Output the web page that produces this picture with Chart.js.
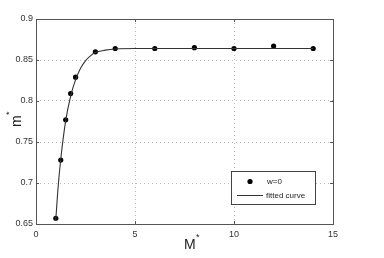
<!DOCTYPE html>
<html>
<head>
<meta charset="utf-8">
<script src="https://cdn.jsdelivr.net/npm/chart.js@4"></script>
<style>
  html, body { margin: 0; padding: 0; background: #fff; }
  #wrap { width: 384px; height: 258px; }
</style>
</head>
<body>
<div id="wrap"><canvas id="chart" width="384" height="258"></canvas></div>
<script>
// measured points (w=0)
const pointX = [1, 1.25, 1.5, 1.75, 2, 3, 4, 6, 8, 10, 12, 14];
const pointY = [0.657, 0.728, 0.777, 0.809, 0.829, 0.860, 0.864, 0.864, 0.865, 0.864, 0.867, 0.864];

// fitted curve
const curveX = [1, 1.1, 1.25, 1.5, 1.75, 2, 2.25, 2.5, 2.75, 3, 3.5, 4, 5, 6, 8, 10, 12, 14];
const curveY = [0.655, 0.690, 0.729, 0.776, 0.806, 0.826, 0.840, 0.849, 0.855, 0.859, 0.862, 0.8635, 0.864, 0.864, 0.864, 0.864, 0.864, 0.864];

const xTicks = [0, 5, 10, 15];
const yTicks = [0.65, 0.7, 0.75, 0.8, 0.85, 0.9];

const FONT = "'Liberation Sans', Arial, sans-serif";

// box, inner tick marks, axis titles and legend, matlab style
const boxPlugin = {
    id: "box",
    afterDraw(chart) {
        const ctx = chart.ctx;
        const a = chart.chartArea;
        const xs = chart.scales.x, ys = chart.scales.y;
        ctx.save();
        ctx.strokeStyle = "#555";
        ctx.lineWidth = 1;
        ctx.strokeRect(Math.round(a.left) + 0.5, Math.round(a.top) + 0.5,
            Math.round(a.right - a.left), Math.round(a.bottom - a.top));

        // ticks inside
        ctx.beginPath();
        xTicks.forEach(v => {
            const px = Math.round(xs.getPixelForValue(v)) + 0.5;
            ctx.moveTo(px, a.bottom); ctx.lineTo(px, a.bottom - 3);
            ctx.moveTo(px, a.top); ctx.lineTo(px, a.top + 3);
        });
        yTicks.forEach(v => {
            const py = Math.round(ys.getPixelForValue(v)) + 0.5;
            ctx.moveTo(a.left, py); ctx.lineTo(a.left + 3, py);
            ctx.moveTo(a.right, py); ctx.lineTo(a.right - 3, py);
        });
        ctx.stroke();

        // axis titles
        ctx.fillStyle = "#222";
        ctx.textBaseline = "alphabetic";
        ctx.font = "14px " + FONT;
        ctx.textAlign = "left";
        ctx.fillText("M", 184, 249);
        ctx.font = "9px " + FONT;
        ctx.fillText("*", 196, 240);

        ctx.save();
        ctx.translate(21, 127);
        ctx.rotate(-Math.PI / 2);
        ctx.font = "14px " + FONT;
        ctx.fillText("m", 0, 0);
        ctx.font = "9px " + FONT;
        ctx.fillText("*", 12, -9);
        ctx.restore();

        // legend
        const lx = 231.5, ly = 171.5, lw = 84, lh = 33;
        ctx.fillStyle = "#fff";
        ctx.fillRect(lx, ly, lw, lh);
        ctx.strokeStyle = "#444";
        ctx.strokeRect(lx, ly, lw, lh);
        ctx.fillStyle = "#000";
        ctx.beginPath();
        ctx.arc(250, 181.5, 2.6, 0, Math.PI * 2);
        ctx.fill();
        ctx.strokeStyle = "#333";
        ctx.beginPath();
        ctx.moveTo(237, 195.5); ctx.lineTo(263, 195.5);
        ctx.stroke();
        ctx.fillStyle = "#222";
        ctx.font = "8px " + FONT;
        ctx.textBaseline = "middle";
        ctx.fillText("w=0", 267, 182);
        ctx.fillText("fitted curve", 266, 196);
        ctx.restore();
    }
};

new Chart(document.getElementById("chart"), {
    type: "scatter",
    data: {
        datasets: [
            {
                label: "fitted curve",
                type: "line",
                data: curveX.map((x, i) => ({ x: x, y: curveY[i] })),
                borderColor: "#333",
                borderWidth: 1.1,
                pointRadius: 0,
                fill: false,
                cubicInterpolationMode: "monotone"
            },
            {
                label: "w=0",
                data: pointX.map((x, i) => ({ x: x, y: pointY[i] })),
                backgroundColor: "#000",
                borderColor: "#000",
                borderWidth: 0,
                pointRadius: 2.6,
                pointHoverRadius: 2.6
            }
        ]
    },
    options: {
        responsive: false,
        animation: false,
        layout: { padding: { top: 19, right: 51, left: 0, bottom: 0 } },
        plugins: { legend: { display: false }, tooltip: { enabled: false } },
        scales: {
            x: {
                type: "linear",
                min: 0, max: 15,
                afterBuildTicks: s => { s.ticks = xTicks.map(v => ({ value: v })); },
                afterFit: s => { s.height = 34; },
                grid: { color: "#b8b8b8", drawTicks: false },
                border: { display: false, dash: [1, 3] },
                ticks: { padding: 5, color: "#333", font: { family: FONT, size: 9 } }
            },
            y: {
                min: 0.65, max: 0.9,
                afterBuildTicks: s => { s.ticks = yTicks.map(v => ({ value: v })); },
                afterFit: s => { s.width = 36; },
                grid: { color: "#b8b8b8", drawTicks: false },
                border: { display: false, dash: [1, 3] },
                ticks: {
                    padding: 3, color: "#333", font: { family: FONT, size: 9 },
                    callback: v => String(parseFloat(v.toFixed(2)))
                }
            }
        }
    },
    plugins: [boxPlugin]
});
</script>
</body>
</html>
